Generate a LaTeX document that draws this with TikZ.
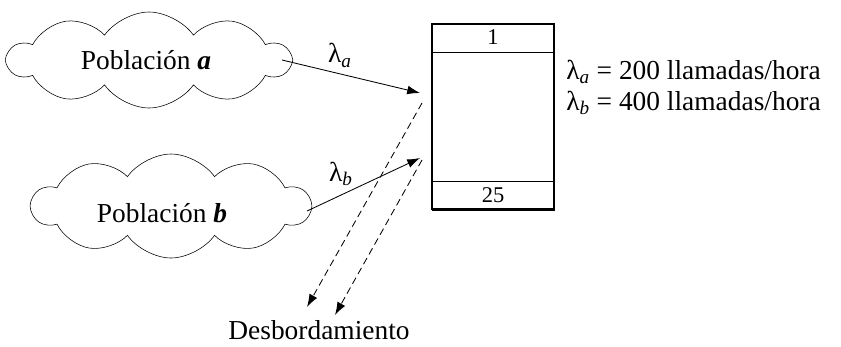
\documentclass[tikz,border=0pt]{standalone}
\usepackage{fontspec}
\setmainfont{Liberation Serif}
\usepackage{tikz}
\usetikzlibrary{arrows.meta,positioning,shapes.symbols}

\begin{document}
\begin{tikzpicture}[
    font=\fontsize{19.5}{22}\selectfont,
    pop/.style={cloud, draw, cloud puffs=10, cloud puff arc=110, cloud ignores aspect, inner sep=0pt},
    buffer/.style={rectangle, draw, line width=2pt, minimum width=3.05cm, minimum height=4.625cm},
    slot/.style={rectangle, draw, line width=0.5pt, minimum width=3.05cm, minimum height=0.725cm, inner sep=0pt, font=\fontsize{16}{18}\selectfont},
    arrow/.style={line width=0.6pt,->,>={Latex[length=3.2mm,width=2.2mm]}},
    overflow/.style={arrow, dash pattern=on 5pt off 3pt}
]
\useasboundingbox (0,0) rectangle (21.025,-8.65);
% poblaciones
\node[pop, minimum width=7.05cm, minimum height=2.4cm] (popa) at (3.725,-1.5) {};
\node at (3.65,-1.5) {Población \textbf{\textit{a}}};
\node[pop, minimum width=6.95cm, minimum height=2.6cm] (popb) at (4.275,-5.15) {};
\node at (4.05,-5.32) {Población \textbf{\textit{b}}};
% sistema
\node[buffer] (sys) at (12.325,-2.9125) {};
\node[slot, anchor=north] (first) at (sys.north) {1};
\node[slot, anchor=south] (last) at (sys.south) {25};
\coordinate (ina) at (10.5,-2.325);
\coordinate (inb) at (10.5,-3.95);
\coordinate (outa) at (10.55,-2.575);
\coordinate (outb) at (10.55,-4.0);
\node (desb) at (7.975,-8.25) {Desbordamiento};
\coordinate (enda) at (7.675,-7.675);
\coordinate (endb) at (8.375,-7.875);
\draw[arrow] (7.05,-1.5) -- (ina) node[pos=0.42, above=1pt] {λ\textsubscript{\itshape a}};
\draw[arrow] (7.675,-5.275) -- (inb) node[pos=0.3, above=3pt] {λ\textsubscript{\itshape b}};
\draw[overflow] (outa) -- (enda);
\draw[overflow] (outb) -- (endb);
\node[anchor=west, align=left, inner sep=0pt] (rates) at (14.15,-2.19) {λ\textsubscript{\itshape a} = 200 llamadas/hora\\ λ\textsubscript{\itshape b} = 400 llamadas/hora};
\end{tikzpicture}
\end{document}
